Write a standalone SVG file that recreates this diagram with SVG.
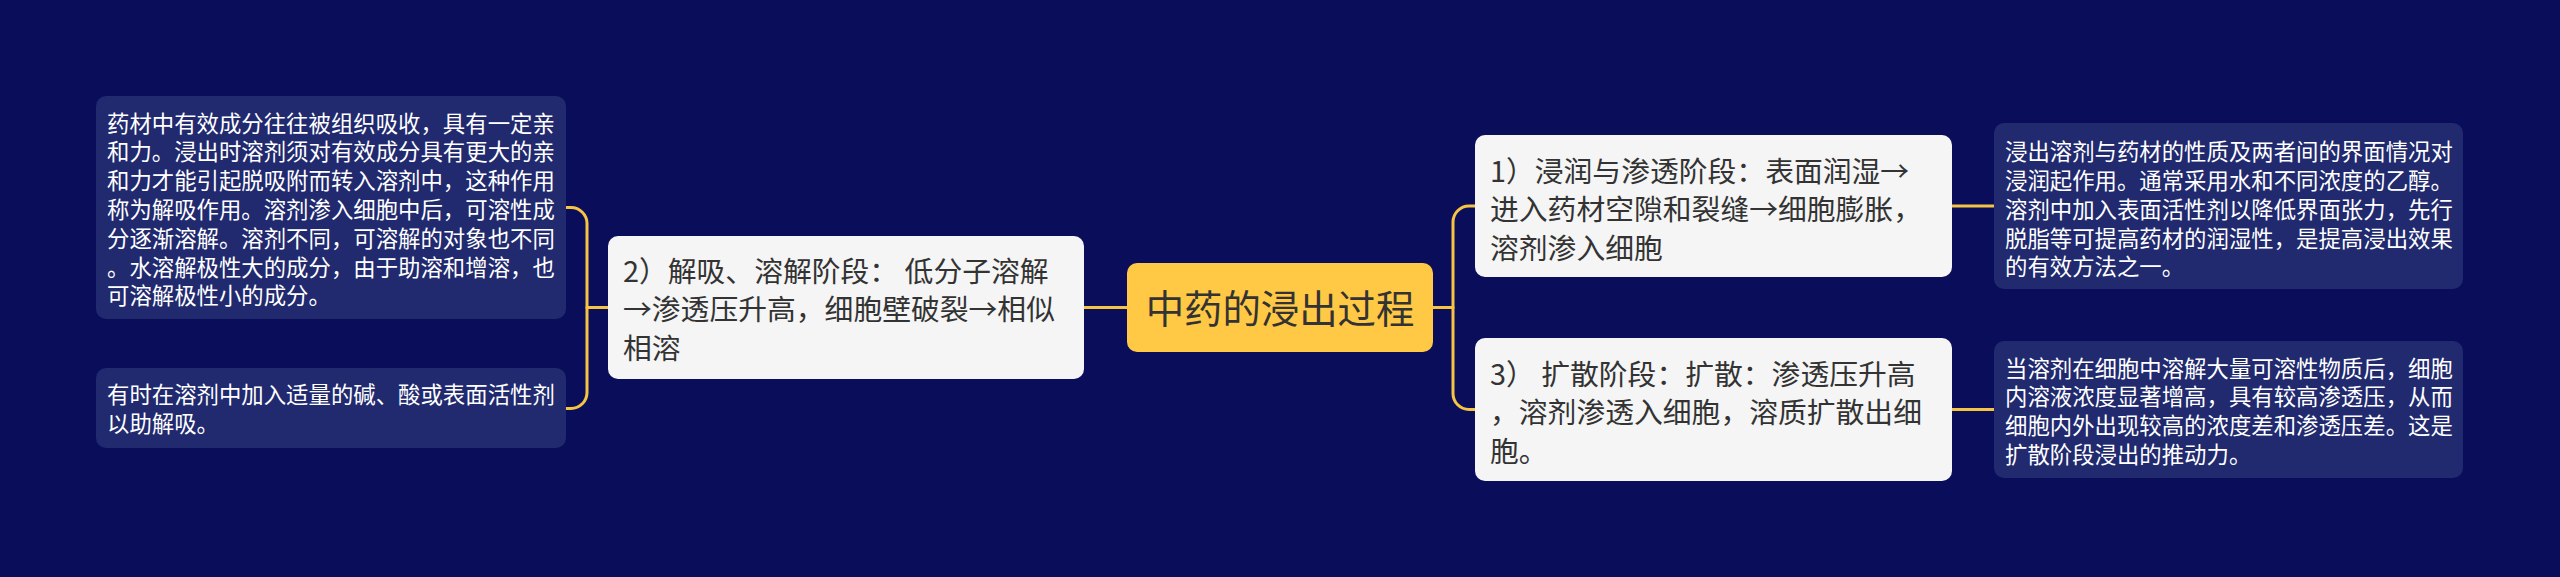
<svg xmlns="http://www.w3.org/2000/svg" width="2560" height="577" viewBox="0 0 2560 577">
<style>
text{font-family:"Noto Sans CJK SC","Noto Sans",sans-serif}
.leaf{fill:#212a6f}
.leaft{fill:#ffffff;font-size:22.4px}
.node{fill:#f5f5f5}
.nodet{fill:#333333;font-size:28.8px}
.root{fill:#ffc845}
.roott{fill:#333333;font-size:38.4px}
.conn{fill:none;stroke:#f5c443;stroke-width:3;stroke-linecap:round}
</style>
<rect x="0" y="0" width="2560" height="577" fill="#0a0e5a"/>
<g id="connectors">
<path class="conn" d="M566,207.5 H571 A16,16 0 0 1 587,223.5 V392.5 A16,16 0 0 1 571,408.5 H566"/>
<path class="conn" d="M587,307.5 H608"/>
<path class="conn" d="M1084,307.5 H1127"/>
<path class="conn" d="M1433,307.5 H1453"/>
<path class="conn" d="M1475,206 H1469 A16,16 0 0 0 1453,222 V393.5 A16,16 0 0 0 1469,409.5 H1475"/>
<path class="conn" d="M1952,206 H1994"/>
<path class="conn" d="M1952,409.5 H1994"/>
</g>
<g id="root">
<rect class="root" x="1127" y="263" width="306" height="89" rx="10"/>
<text class="roott" x="1280" y="322.5" text-anchor="middle">中药的浸出过程</text>
</g>
<g id="node2">
<rect class="node" x="608" y="236" width="476" height="143" rx="10"/>
<text class="nodet"><tspan x="623" y="282">2）解吸、溶解阶段： 低分子溶解</tspan><tspan x="623" y="320.4">→渗透压升高，细胞壁破裂→相似</tspan><tspan x="623" y="358.8">相溶</tspan></text>
</g>
<g id="leaf2a">
<rect class="leaf" x="96" y="96" width="470" height="223" rx="10"/>
<text class="leaft"><tspan x="107" y="131.5">药材中有效成分往往被组织吸收，具有一定亲</tspan><tspan x="107" y="160.3">和力。浸出时溶剂须对有效成分具有更大的亲</tspan><tspan x="107" y="189.1">和力才能引起脱吸附而转入溶剂中，这种作用</tspan><tspan x="107" y="217.9">称为解吸作用。溶剂渗入细胞中后，可溶性成</tspan><tspan x="107" y="246.7">分逐渐溶解。溶剂不同，可溶解的对象也不同</tspan><tspan x="107" y="275.5">。水溶解极性大的成分，由于助溶和增溶，也</tspan><tspan x="107" y="304.3">可溶解极性小的成分。</tspan></text>
</g>
<g id="leaf2b">
<rect class="leaf" x="96" y="368" width="470" height="80" rx="10"/>
<text class="leaft"><tspan x="107" y="403">有时在溶剂中加入适量的碱、酸或表面活性剂</tspan><tspan x="107" y="431.8">以助解吸。</tspan></text>
</g>
<g id="node1">
<rect class="node" x="1475" y="135" width="477" height="142" rx="10"/>
<text class="nodet"><tspan x="1490" y="182">1）浸润与渗透阶段：表面润湿→</tspan><tspan x="1490" y="220.4">进入药材空隙和裂缝→细胞膨胀，</tspan><tspan x="1490" y="258.8">溶剂渗入细胞</tspan></text>
</g>
<g id="leaf1">
<rect class="leaf" x="1994" y="123" width="469" height="166" rx="10"/>
<text class="leaft"><tspan x="2005" y="160.2">浸出溶剂与药材的性质及两者间的界面情况对</tspan><tspan x="2005" y="189">浸润起作用。通常采用水和不同浓度的乙醇。</tspan><tspan x="2005" y="217.8">溶剂中加入表面活性剂以降低界面张力，先行</tspan><tspan x="2005" y="246.6">脱脂等可提高药材的润湿性，是提高浸出效果</tspan><tspan x="2005" y="275.4">的有效方法之一。</tspan></text>
</g>
<g id="node3">
<rect class="node" x="1475" y="338" width="477" height="143" rx="10"/>
<text class="nodet"><tspan x="1490" y="385">3） 扩散阶段：扩散：渗透压升高</tspan><tspan x="1490" y="423.4">，溶剂渗透入细胞，溶质扩散出细</tspan><tspan x="1490" y="461.8">胞。</tspan></text>
</g>
<g id="leaf3">
<rect class="leaf" x="1994" y="341" width="469" height="137" rx="10"/>
<text class="leaft"><tspan x="2005" y="376.5">当溶剂在细胞中溶解大量可溶性物质后，细胞</tspan><tspan x="2005" y="405.3">内溶液浓度显著增高，具有较高渗透压，从而</tspan><tspan x="2005" y="434.1">细胞内外出现较高的浓度差和渗透压差。这是</tspan><tspan x="2005" y="462.9">扩散阶段浸出的推动力。</tspan></text>
</g>
</svg>
